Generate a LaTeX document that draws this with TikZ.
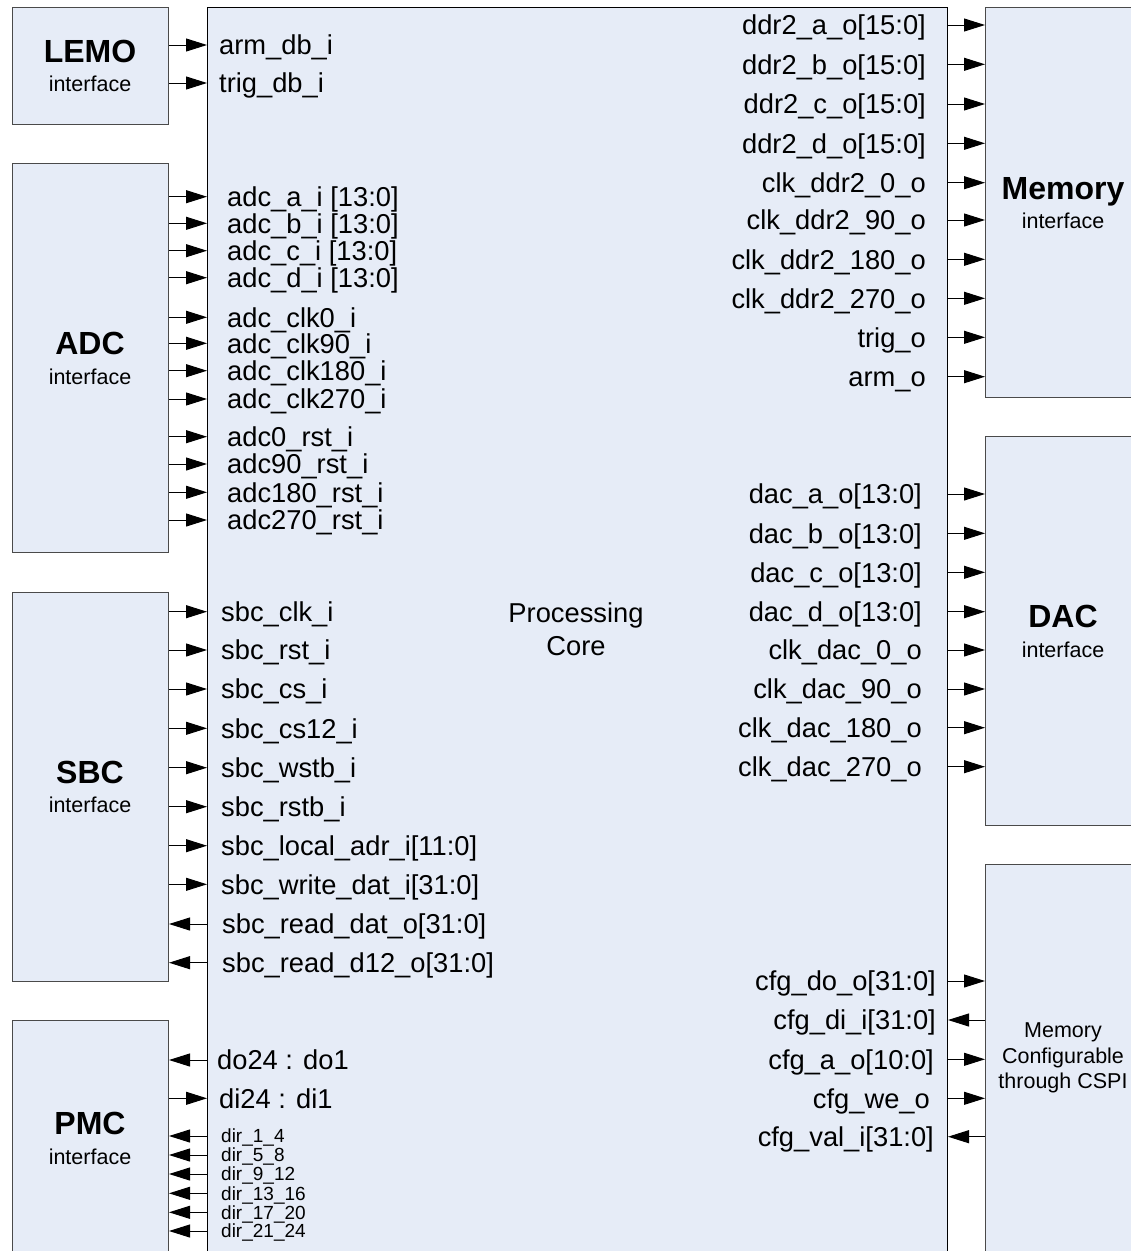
\documentclass[tikz,border=0pt]{standalone}
\usepackage{fontspec}
\setmainfont{Liberation Sans}
\usetikzlibrary{arrows.meta}
\definecolor{boxfill}{HTML}{E6ECF7}
\definecolor{boxline}{HTML}{4A4A4A}
\begin{document}
\begin{tikzpicture}[x=1pt,y=-1pt,
  sidebox/.style={draw=boxline, fill=boxfill, line width=1pt, minimum width=156pt, inner sep=0pt, anchor=north west},
  corebox/.style={draw=black, fill=boxfill, line width=1pt, inner sep=0pt, anchor=north west},
  sig/.style={font=\fontsize{27.3}{27.3}\selectfont, inner sep=0pt, text height=19.5pt, text depth=0pt},
  ssig/.style={font=\fontsize{19}{19}\selectfont, inner sep=0pt, text height=13.6pt, text depth=0pt},
  ttl/.style={font=\bfseries\fontsize{32}{32}\selectfont, inner sep=0pt, text height=23pt, text depth=0pt},
  sub/.style={font=\fontsize{21.5}{21.5}\selectfont, inner sep=0pt, text height=15.4pt, text depth=0pt},
  conn/.style={line width=1pt, -{Triangle[length=21pt,width=13pt]}},
  rconn/.style={line width=1pt, {Triangle[length=21pt,width=13pt]}-}
]
\useasboundingbox (0,0) rectangle (1131,1251);
\clip (0,0) rectangle (1131,1251);

% core
\node[corebox, minimum width=740pt, minimum height=1300pt] (core) at (207,7) {};
\node[font=\fontsize{27.3}{33}\selectfont, align=center, inner sep=0pt] (pc) at (576,629) {Processing\\Core};

% side boxes
\node[sidebox, minimum height=117pt] (lemo) at (12,7) {};
\node[sidebox, minimum height=389pt] (adc) at (12,163) {};
\node[sidebox, minimum height=389pt] (sbc) at (12,592) {};
\node[sidebox, minimum height=389pt] (pmc) at (12,1020) {};
\node[sidebox, minimum height=390pt] (mem) at (985,7) {};
\node[sidebox, minimum height=389pt] (dac) at (985,436) {};
\node[sidebox, minimum height=389pt] (csp) at (985,864) {};

% titles
\node[ttl] (lemoT) at (90,51) {LEMO};
\node[sub] (lemoS) at (90,84) {interface};
\node[ttl] (adcT) at (90,343) {ADC};
\node[sub] (adcS) at (90,377) {interface};
\node[ttl] (sbcT) at (90,772) {SBC};
\node[sub] (sbcS) at (90,805) {interface};
\node[ttl] (pmcT) at (90,1123) {PMC};
\node[sub] (pmcS) at (90,1157) {interface};
\node[ttl] (memT) at (1063,188) {Memory};
\node[sub] (memS) at (1063,221) {interface};
\node[ttl] (dacT) at (1063,616) {DAC};
\node[sub] (dacS) at (1063,650) {interface};
\node[font=\fontsize{21.5}{25.5}\selectfont, align=center, inner sep=0pt] (cspT) at (1063,1058) {Memory\\Configurable\\through CSPI};

% LEMO signals
\foreach \y/\t [count=\i] in {45/{arm\_db\_i}, 83/{trig\_db\_i}} {
  \node[sig, anchor=west] (ls\i) at (219,\y) {\t};
  \draw[conn] (lemo.east |- ls\i.west) -- (core.west |- ls\i.west);
}

% ADC signals
\foreach \y/\t [count=\i] in {
  196.7/{adc\_a\_i [13:0]}, 223.3/{adc\_b\_i [13:0]}, 250.7/{adc\_c\_i [13:0]}, 277.7/{adc\_d\_i [13:0]},
  317.3/{adc\_clk0\_i}, 343.3/{adc\_clk90\_i}, 370.7/{adc\_clk180\_i}, 399/{adc\_clk270\_i},
  436.7/{adc0\_rst\_i}, 464/{adc90\_rst\_i}, 492.3/{adc180\_rst\_i}, 520/{adc270\_rst\_i}} {
  \node[sig, anchor=west] (as\i) at (227,\y) {\t};
  \draw[conn] (adc.east |- as\i.west) -- (core.west |- as\i.west);
}

% SBC signals (inputs)
\foreach \y/\t [count=\i] in {
  611.7/{sbc\_clk\_i}, 650/{sbc\_rst\_i}, 689/{sbc\_cs\_i}, 728.3/{sbc\_cs12\_i},
  767.7/{sbc\_wstb\_i}, 806.7/{sbc\_rstb\_i}, 845.7/{sbc\_local\_adr\_i[11:0]}, 884.3/{sbc\_write\_dat\_i[31:0]}} {
  \node[sig, anchor=west] (si\i) at (221,\y) {\t};
  \draw[conn] (sbc.east |- si\i.west) -- (core.west |- si\i.west);
}
% SBC signals (outputs)
\foreach \y/\t [count=\i] in {924/{sbc\_read\_dat\_o[31:0]}, 962.7/{sbc\_read\_d12\_o[31:0]}} {
  \node[sig, anchor=west] (so\i) at (222,\y) {\t};
  \draw[rconn] (sbc.east |- so\i.west) -- (core.west |- so\i.west);
}

% PMC signals
\node[sig, anchor=west] (pdo) at (217,1060) {do24 : do1};
\draw[rconn] (pmc.east |- pdo.west) -- (core.west |- pdo.west);
\node[sig, anchor=west] (pdi) at (219,1098.3) {di24 : di1};
\draw[conn] (pmc.east |- pdi.west) -- (core.west |- pdi.west);
\foreach \y/\t [count=\i] in {
  1136/{dir\_1\_4}, 1155/{dir\_5\_8}, 1174/{dir\_9\_12}, 1193.3/{dir\_13\_16}, 1212.3/{dir\_17\_20}, 1231/{dir\_21\_24}} {
  \node[ssig, anchor=west] (pd\i) at (221,\y) {\t};
  \draw[rconn] (pmc.east |- pd\i.west) -- (core.west |- pd\i.west);
}

% Memory signals
\foreach \y/\t [count=\i] in {
  25/{ddr2\_a\_o[15:0]}, 64.3/{ddr2\_b\_o[15:0]}, 104/{ddr2\_c\_o[15:0]}, 143.3/{ddr2\_d\_o[15:0]},
  182.7/{clk\_ddr2\_0\_o}, 220/{clk\_ddr2\_90\_o}, 259.3/{clk\_ddr2\_180\_o}, 298.3/{clk\_ddr2\_270\_o},
  337.3/{trig\_o}, 376.7/{arm\_o}} {
  \node[sig, anchor=east] (ms\i) at (926,\y) {\t};
  \draw[conn] (core.east |- ms\i.east) -- (mem.west |- ms\i.east);
}

% DAC signals
\foreach \y/\t [count=\i] in {
  494/{dac\_a\_o[13:0]}, 533.3/{dac\_b\_o[13:0]}, 572.3/{dac\_c\_o[13:0]}, 611.7/{dac\_d\_o[13:0]},
  650/{clk\_dac\_0\_o}, 689/{clk\_dac\_90\_o}, 727.7/{clk\_dac\_180\_o}, 766.7/{clk\_dac\_270\_o}} {
  \node[sig, anchor=east] (ds\i) at (922,\y) {\t};
  \draw[conn] (core.east |- ds\i.east) -- (dac.west |- ds\i.east);
}

% CSPI signals
\node[sig, anchor=east] (c1) at (936,981) {cfg\_do\_o[31:0]};
\draw[conn] (core.east |- c1.east) -- (csp.west |- c1.east);
\node[sig, anchor=east] (c2) at (936,1020) {cfg\_di\_i[31:0]};
\draw[rconn] (core.east |- c2.east) -- (csp.west |- c2.east);
\node[sig, anchor=east] (c3) at (934,1059.3) {cfg\_a\_o[10:0]};
\draw[conn] (core.east |- c3.east) -- (csp.west |- c3.east);
\node[sig, anchor=east] (c4) at (930,1098.3) {cfg\_we\_o};
\draw[conn] (core.east |- c4.east) -- (csp.west |- c4.east);
\node[sig, anchor=east] (c5) at (934,1136.7) {cfg\_val\_i[31:0]};
\draw[rconn] (core.east |- c5.east) -- (csp.west |- c5.east);
\end{tikzpicture}
\end{document}
